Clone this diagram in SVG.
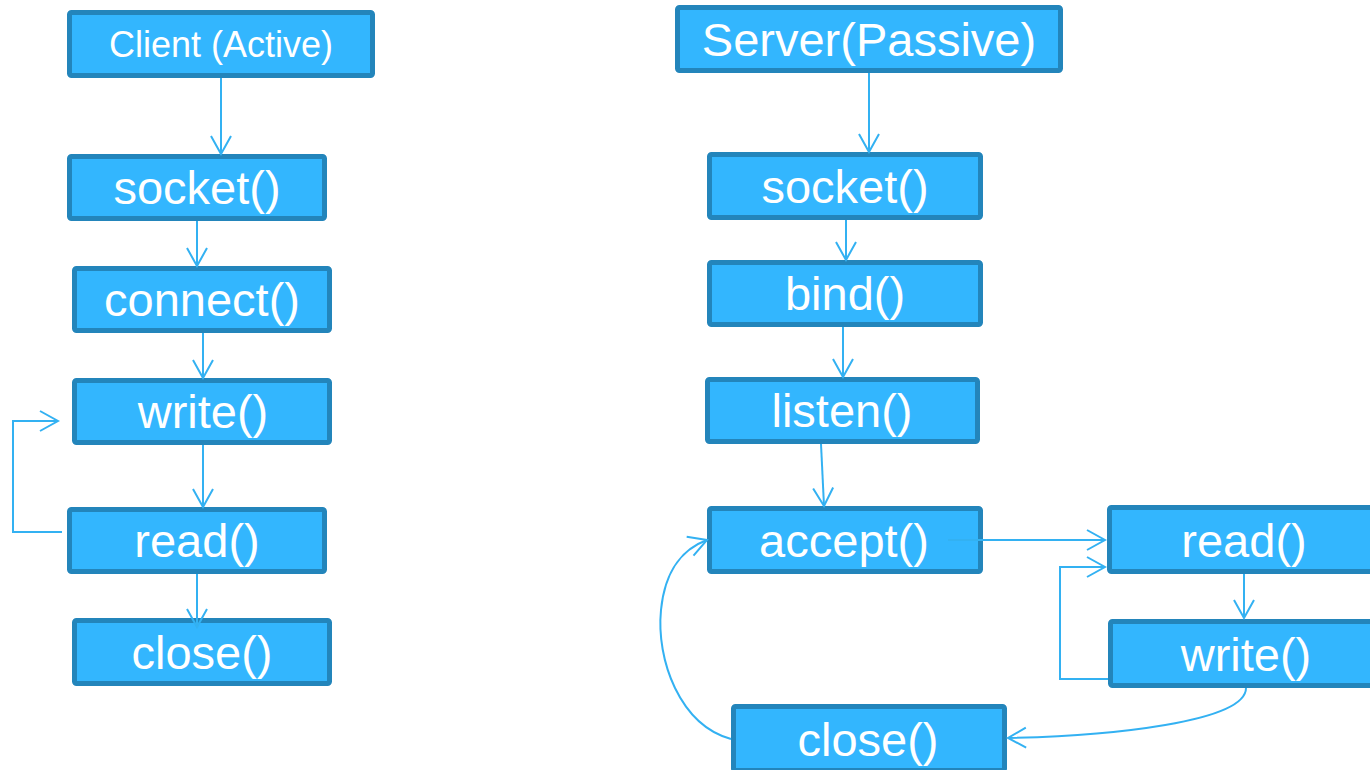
<svg xmlns="http://www.w3.org/2000/svg" width="1370" height="770" viewBox="0 0 1370 770">
  <style>
    .box { fill: #33B6FE; stroke: #2385BB; stroke-width: 5; }
    .lbl { font-family: "Liberation Sans", Arial, sans-serif; font-size: 47px; fill: #FFFFFF; text-anchor: middle; }
    .edge { fill: none; stroke: #33B1F2; stroke-width: 2; marker-end: url(#arrow); }
  </style>
  <defs>
    <marker id="arrow" markerUnits="userSpaceOnUse" viewBox="-20 -12 22 24" refX="0" refY="0" markerWidth="22" markerHeight="24" orient="auto">
      <path d="M-18,-10 L0,0 L-18,10" fill="none" stroke="#33B1F2" stroke-width="2"/>
    </marker>
  </defs>
  <rect width="1370" height="770" fill="#FFFFFF"/>

  <!-- client nodes -->
  <g id="client">
    <rect class="box" x="69.5" y="12.5" width="303" height="63" rx="2"/>
    <text class="lbl" x="221" y="57" style="font-size:36px">Client (Active)</text>
  </g>
  <g id="c-socket">
    <rect class="box" x="69.5" y="156.5" width="255" height="62" rx="2"/>
    <text class="lbl" x="197" y="204">socket()</text>
  </g>
  <g id="c-connect">
    <rect class="box" x="74.5" y="268.5" width="255" height="62" rx="2"/>
    <text class="lbl" x="202" y="316">connect()</text>
  </g>
  <g id="c-write">
    <rect class="box" x="74.5" y="380.5" width="255" height="62" rx="2"/>
    <text class="lbl" x="203" y="428">write()</text>
  </g>
  <g id="c-read">
    <rect class="box" x="69.5" y="509.5" width="255" height="62" rx="2"/>
    <text class="lbl" x="197" y="557">read()</text>
  </g>
  <g id="c-close">
    <rect class="box" x="74.5" y="620.5" width="255" height="63" rx="2"/>
    <text class="lbl" x="202" y="669">close()</text>
  </g>

  <!-- server nodes -->
  <g id="server">
    <rect class="box" x="677.5" y="7.5" width="383" height="63" rx="2"/>
    <text class="lbl" x="869" y="56">Server(Passive)</text>
  </g>
  <g id="s-socket">
    <rect class="box" x="709.5" y="154.5" width="271" height="63" rx="2"/>
    <text class="lbl" x="845" y="203">socket()</text>
  </g>
  <g id="s-bind">
    <rect class="box" x="709.5" y="262.5" width="271" height="62" rx="2"/>
    <text class="lbl" x="845" y="310">bind()</text>
  </g>
  <g id="s-listen">
    <rect class="box" x="707.5" y="379.5" width="270" height="62" rx="2"/>
    <text class="lbl" x="842" y="427">listen()</text>
  </g>
  <g id="s-accept">
    <rect class="box" x="709.5" y="508.5" width="271" height="63" rx="2"/>
    <text class="lbl" x="844" y="557">accept()</text>
  </g>
  <g id="s-read">
    <rect class="box" x="1109.5" y="507.5" width="272" height="64" rx="2"/>
    <text class="lbl" x="1244" y="557">read()</text>
  </g>
  <g id="s-write">
    <rect class="box" x="1110.5" y="621.5" width="272" height="64" rx="2"/>
    <text class="lbl" x="1246" y="671">write()</text>
  </g>
  <g id="s-close">
    <rect class="box" x="733.5" y="706.5" width="271" height="64" rx="2"/>
    <text class="lbl" x="868" y="756">close()</text>
  </g>

  <!-- connectors, drawn over the boxes -->
  <g id="connectors">
    <!-- client side -->
    <path class="edge" d="M221,78 L221,154"/>
    <path class="edge" d="M197,221 L197,266"/>
    <path class="edge" d="M203,333 L203,378"/>
    <path class="edge" d="M203,445 L203,507"/>
    <path class="edge" d="M197,574 L197,627"/>
    <path class="edge" d="M62,532 L13,532 L13,421 L58,421"/>
    <!-- server side -->
    <path class="edge" d="M869,73 L869,152"/>
    <path class="edge" d="M846,220 L846,260"/>
    <path class="edge" d="M843,327 L843,377"/>
    <path class="edge" d="M821,444 L824,506"/>
    <path class="edge" d="M948,540 L1105,540"/>
    <path class="edge" d="M1244,574 L1244,618"/>
    <path class="edge" d="M1108,679 L1060,679 L1060,567 L1105,567"/>
    <path class="edge" d="M1246,688 C1246,722 1110,736 1008,738"/>
    <path class="edge" d="M731,739 C680,725 656,660 661,610 C665,568 685,548 707,540"/>
  </g>
</svg>
